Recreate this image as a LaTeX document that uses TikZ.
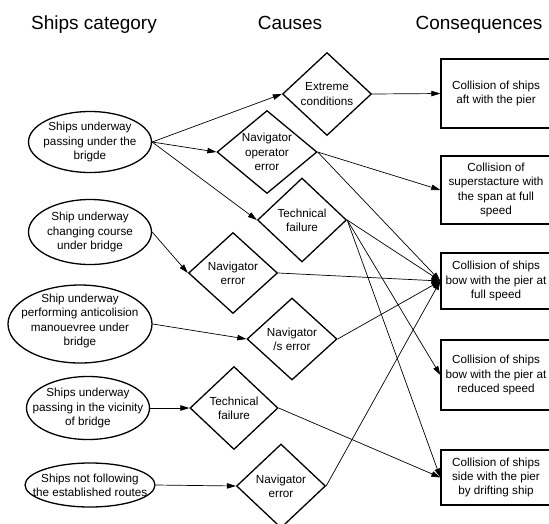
\documentclass[tikz,border=0pt]{standalone}
\usepackage{fontspec}
\setmainfont{Liberation Sans}
\usetikzlibrary{shapes.geometric,arrows.meta}
\begin{document}
\begin{tikzpicture}[x=1pt,y=-1pt,
  txt/.style={font=\fontsize{11.7}{14.2}\selectfont, align=center, inner sep=0pt},
  ttl/.style={font=\fontsize{19}{22}\selectfont, anchor=base, inner sep=0pt},
  ell/.style={draw, line width=1.3pt, ellipse, inner sep=0pt},
  dia/.style={draw, line width=1.3pt, diamond, inner sep=0pt},
  cbox/.style={draw, line width=1.3pt, rectangle, inner sep=0pt, minimum width=110pt},
  conn/.style={line width=0.7pt, -{Triangle[length=9pt,width=5.5pt]}},
]
\useasboundingbox (0,0) rectangle (549,523);

% titles
\node[ttl] (t1) at (94,29) {Ships category};
\node[ttl] (t2) at (290,29) {Causes};
\node[ttl] (t3) at (479,29) {Consequences};

% ships category
\node[ell, minimum width=123pt, minimum height=61pt] (e1) at (90,142) {};
\node[txt] (e1t) at (e1.center) {Ships underway\\passing under the\\brigde};
\node[ell, minimum width=123pt, minimum height=65pt] (e2) at (90,232) {};
\node[txt] (e2t) at (e2.center) {Ship underway\\changing course\\under bridge};
\node[ell, minimum width=144pt, minimum height=78pt] (e3) at (80,324) {};
\node[txt] (e3t) at (80,321) {Ship underway\\performing anticolision\\manouevree under\\bridge};
\node[ell, minimum width=123pt, minimum height=63pt] (e4) at (88,408) {};
\node[txt] (e4t) at (e4.center) {Ships underway\\passing in the vicinity\\of bridge};
\node[ell, minimum width=130pt, minimum height=44pt] (e5) at (90,485) {};
\node[txt] (e5t) at (e5.center) {Ships not following\\the established routes};

% causes
\node[dia, minimum width=89pt, minimum height=83pt] (d1) at (327,94) {};
\node[txt] (d1t) at (d1.center) {Extreme\\conditions};
\node[dia, minimum width=100pt, minimum height=83pt] (d2) at (267,152) {};
\node[txt] (d2t) at (d2.center) {Navigator\\operator\\error};
\node[dia, minimum width=89pt, minimum height=84pt] (d3) at (302,220) {};
\node[txt] (d3t) at (d3.center) {Technical\\failure};
\node[dia, minimum width=89pt, minimum height=81pt] (d4) at (233,273) {};
\node[txt] (d4t) at (d4.center) {Navigator\\error};
\node[dia, minimum width=90pt, minimum height=82pt] (d5) at (292,339) {};
\node[txt] (d5t) at (d5.center) {Navigator\\/s error};
\node[dia, minimum width=88pt, minimum height=83pt] (d6) at (234,408) {};
\node[txt] (d6t) at (d6.center) {Technical\\failure};
\node[dia, minimum width=89pt, minimum height=84pt] (d7) at (281,486) {};
\node[txt] (d7t) at (d7.center) {Navigator\\error};

% consequences
\node[cbox, minimum height=69pt] (r1) at (496,93.5) {};
\node[txt] (r1t) at (r1.center) {Collision of ships\\aft with the pier};
\node[cbox, minimum height=68pt] (r2) at (496,190) {};
\node[txt] (r2t) at (r2.center) {Collision of\\superstacture with\\the span at full\\speed};
\node[cbox, minimum height=56pt] (r3) at (496,281) {};
\node[txt] (r3t) at (r3.center) {Collision of ships\\bow with the pier at\\full speed};
\node[cbox, minimum height=70pt] (r4) at (496,375) {};
\node[txt] (r4t) at (r4.center) {Collision of ships\\bow with the pier at\\reduced speed};
\node[cbox, minimum height=55pt] (r5) at (496,477.5) {};
\node[txt] (r5t) at (r5.center) {Collision of ships\\side with the pier\\by drifting ship};

% connectors: category -> causes
\draw[conn] (e1.east) -- (d1.west);
\draw[conn] (e1.east) -- (d2.west);
\draw[conn] (e1.east) -- (d3.west);
\draw[conn] (e2.east) -- (d4.west);
\draw[conn] (e3.east) -- (d5.west);
\draw[conn] (e4.east) -- (d6.west);
\draw[conn] (e5.east) -- (d7.west);

% connectors: causes -> consequences
\draw[conn] (d1.east) -- (r1.west);
\draw[conn] (d2.east) -- (r2.west);
\draw[conn] (d2.east) -- (r3.west);
\draw[conn] (d3.east) -- (r3.west);
\draw[conn] (d3.east) -- (r4.west);
\draw[conn] (d3.east) -- (r5.west);
\draw[conn] (d4.east) -- (r3.west);
\draw[conn] (d5.east) -- (r3.west);
\draw[conn] (d6.east) -- (r5.west);
\draw[conn] (d7.east) -- (r3.west);
\end{tikzpicture}
\end{document}
